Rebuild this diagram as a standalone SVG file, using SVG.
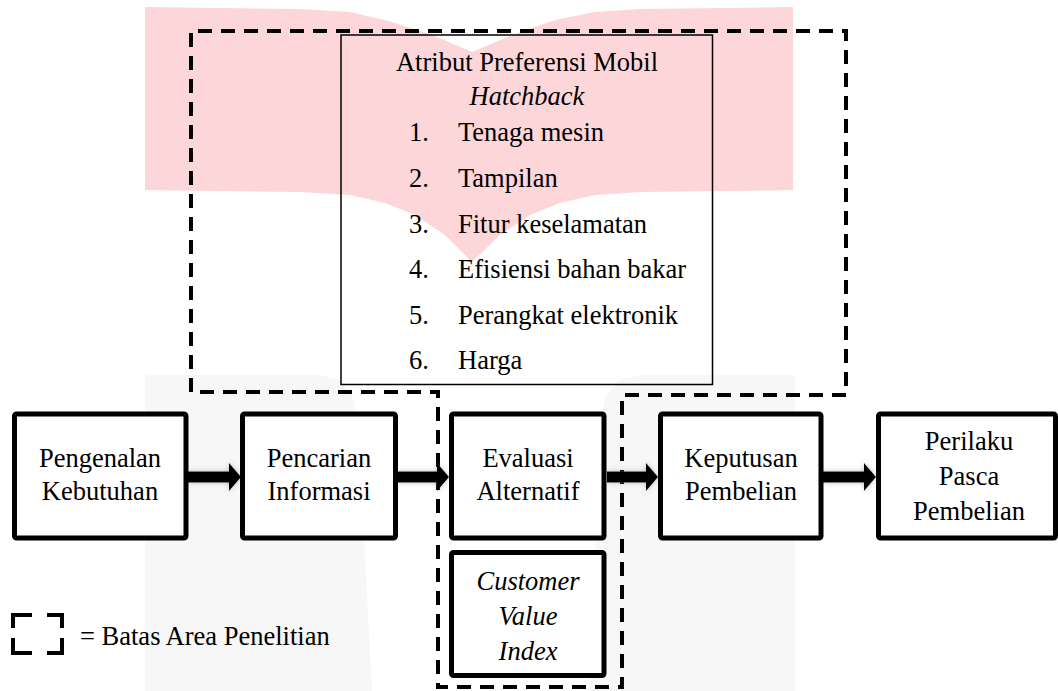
<svg xmlns="http://www.w3.org/2000/svg" width="1058" height="691" viewBox="0 0 1058 691">
  <defs>
    <style>
      .t { font-family: "Liberation Serif", "Times New Roman", serif; font-size: 26.5px; fill: #000; }
      .c { text-anchor: middle; }
      .i { font-style: italic; }
      .node { fill: #fff; stroke: #000; stroke-width: 5; }
      .dash { fill: none; stroke: #000; stroke-width: 4; stroke-dasharray: 14 9; }
      .arrow { fill: #000; filter: url(#sh); }
    </style>
    <filter id="sh" x="-30%" y="-60%" width="160%" height="220%">
      <feDropShadow dx="0" dy="0" stdDeviation="2.5" flood-color="#777" flood-opacity="0.5"/>
    </filter>
  </defs>

  <rect width="1058" height="691" fill="#fff"/>

  <!-- watermark -->
  <g id="watermark">
    <polygon points="145,7 300,9 350,12 385,20 430,34 472,52 515,34 555,20 595,12 640,9 793,7 793,190 640,192 595,195 560,203 530,215 500,235 472,262 445,235 415,215 385,203 350,195 300,192 145,190" fill="#fdd6da"/>
    <polygon points="145,375 318,375 340,380 352,395 358,420 372,691 145,691" fill="#f7f7f7"/>
    <polygon points="795,375 642,375 620,380 606,395 600,420 590,691 795,691" fill="#f7f7f7"/>
  </g>

  <!-- research area boundary -->
  <g id="boundary">
    <path class="dash" d="M191 392 V 31 H 846 V 395 H 622 V 687 H 438 V 392 Z"/>
  </g>

  <!-- attribute box -->
  <g id="atribut">
    <rect x="341" y="35" width="371.5" height="349.5" fill="none" stroke="#000" stroke-width="1.5"/>
    <text class="t c" x="527" y="71">Atribut Preferensi Mobil</text>
    <text class="t c i" x="527" y="105">Hatchback</text>
    <text class="t" x="409" y="141">1.</text><text class="t" x="458" y="141">Tenaga mesin</text>
    <text class="t" x="409" y="187">2.</text><text class="t" x="458" y="187">Tampilan</text>
    <text class="t" x="409" y="232.5">3.</text><text class="t" x="458" y="232.5">Fitur keselamatan</text>
    <text class="t" x="409" y="278">4.</text><text class="t" x="458" y="278">Efisiensi bahan bakar</text>
    <text class="t" x="409" y="323.5">5.</text><text class="t" x="458" y="323.5">Perangkat elektronik</text>
    <text class="t" x="409" y="369">6.</text><text class="t" x="458" y="369">Harga</text>
  </g>

  <!-- connectors -->
  <g id="connectors">
    <path class="arrow" d="M188 471.5 H 229 V 463 L 241 477 L 229 491 V 482.5 H 188 Z"/>
    <path class="arrow" d="M398 471.5 H 437 V 463 L 449 477 L 437 491 V 482.5 H 398 Z"/>
    <path class="arrow" d="M607 471.5 H 646 V 463 L 658 477 L 646 491 V 482.5 H 607 Z"/>
    <path class="arrow" d="M823 471.5 H 864 V 463 L 876 477 L 864 491 V 482.5 H 823 Z"/>
  </g>

  <g id="n1">
    <rect class="node" x="14.5" y="414" width="171.5" height="124" rx="2"/>
    <text class="t c" x="100" y="467">Pengenalan</text>
    <text class="t c" x="100" y="500">Kebutuhan</text>
  </g>
  <g id="n2">
    <rect class="node" x="242.5" y="414" width="153" height="124" rx="2"/>
    <text class="t c" x="319" y="467">Pencarian</text>
    <text class="t c" x="319" y="500">Informasi</text>
  </g>
  <g id="n3">
    <rect class="node" x="451.5" y="414" width="152.5" height="124" rx="2"/>
    <text class="t c" x="528" y="467">Evaluasi</text>
    <text class="t c" x="528" y="500">Alternatif</text>
  </g>
  <g id="n4">
    <rect class="node" x="660.5" y="414" width="160.5" height="124" rx="2"/>
    <text class="t c" x="741" y="467">Keputusan</text>
    <text class="t c" x="741" y="500">Pembelian</text>
  </g>
  <g id="n5">
    <rect class="node" x="878.5" y="414" width="177" height="124" rx="2"/>
    <text class="t c" x="969" y="450">Perilaku</text>
    <text class="t c" x="969" y="485">Pasca</text>
    <text class="t c" x="969" y="520">Pembelian</text>
  </g>
  <g id="n6">
    <rect class="node" x="451.5" y="552.5" width="152.5" height="123" rx="2"/>
    <text class="t c i" x="528" y="590">Customer</text>
    <text class="t c i" x="528" y="625">Value</text>
    <text class="t c i" x="528" y="660">Index</text>
  </g>

  <!-- legend -->
  <g id="legend">
    <path d="M32 615 H 13 V 628 M13 638 V 653 H 32 M47 615 H 62 V 628 M62 638 V 653 H 47" fill="none" stroke="#000" stroke-width="4"/>
    <text class="t" x="80" y="645">= Batas Area Penelitian</text>
  </g>
</svg>
